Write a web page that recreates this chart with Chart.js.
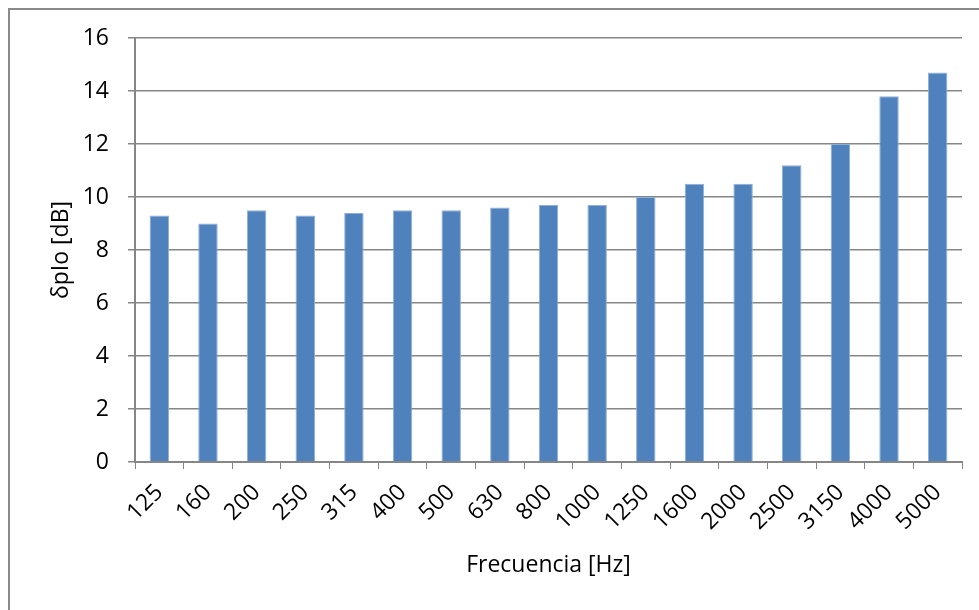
<!DOCTYPE html>
<html>
<head>
<meta charset="utf-8">
<script src="https://cdn.jsdelivr.net/npm/chart.js@4"></script>
<style>
    html, body { margin: 0; padding: 0; background: #fff; overflow: hidden; }
    #wrap { position: relative; width: 979px; height: 610px; }
    #frame {
        position: absolute; left: 8px; top: 8px; width: 1000px; height: 700px;
        border: 2px solid #8a8a8a; pointer-events: none;
    }
</style>
</head>
<body>
<div id="wrap">
    <canvas id="freqChart" width="979" height="610"></canvas>
    <div id="frame"></div>
</div>
<script>
// Data
const frequencies = ['125', '160', '200', '250', '315', '400', '500', '630', '800', '1000',
    '1250', '1600', '2000', '2500', '3150', '4000', '5000'];
const deltaValues = [9.3, 9.0, 9.5, 9.3, 9.4, 9.5, 9.5, 9.6, 9.7, 9.7,
    10.0, 10.5, 10.5, 11.2, 12.0, 13.8, 14.7];
const yTicks = [0, 2, 4, 6, 8, 10, 12, 14, 16];

const axisGray = '#868686';
const labelFont = { family: "'Open Sans', sans-serif", size: 23 };

document.addEventListener('DOMContentLoaded', function () {
    const ctx = document.getElementById('freqChart').getContext('2d');

    new Chart(ctx, {
        type: 'bar',
        data: {
            labels: frequencies,
            datasets: [{
                data: deltaValues,
                backgroundColor: '#4F81BD',
                borderColor: '#8fb0d8',
                borderWidth: 1,
                barPercentage: 0.4,
                categoryPercentage: 1.0
            }]
        },
        options: {
            responsive: false,
            animation: false,
            layout: { padding: { top: 38, right: 17, bottom: 0, left: 0 } },
            plugins: {
                legend: { display: false },
                tooltip: { enabled: false }
            },
            scales: {
                x: {
                    grid: {
                        offset: true,
                        drawOnChartArea: false,
                        drawTicks: true,
                        tickLength: 7,
                        color: axisGray
                    },
                    border: { color: axisGray, width: 2 },
                    ticks: {
                        color: '#000',
                        font: labelFont,
                        maxRotation: 45,
                        minRotation: 45,
                        padding: 10,
                        autoSkip: false
                    },
                    title: {
                        display: true,
                        text: 'Frecuencia [Hz]',
                        color: '#000',
                        font: labelFont,
                        padding: { top: 0, bottom: 31 }
                    },
                    afterFit: function (scale) { scale.height = 148; }
                },
                y: {
                    min: 0,
                    max: 16,
                    afterBuildTicks: function (scale) {
                        scale.ticks = yTicks.map(v => ({ value: v }));
                    },
                    grid: {
                        color: axisGray,
                        lineWidth: 1.5,
                        drawTicks: true,
                        tickLength: 7
                    },
                    border: { color: axisGray, width: 2 },
                    ticks: {
                        color: '#000',
                        font: labelFont,
                        padding: 19
                    },
                    title: {
                        display: true,
                        text: 'δpIo [dB]',
                        color: '#000',
                        font: labelFont,
                        padding: { top: 48, bottom: 0 }
                    },
                    afterFit: function (scale) { scale.width = 135; }
                }
            }
        }
    });
});
</script>
</body>
</html>
